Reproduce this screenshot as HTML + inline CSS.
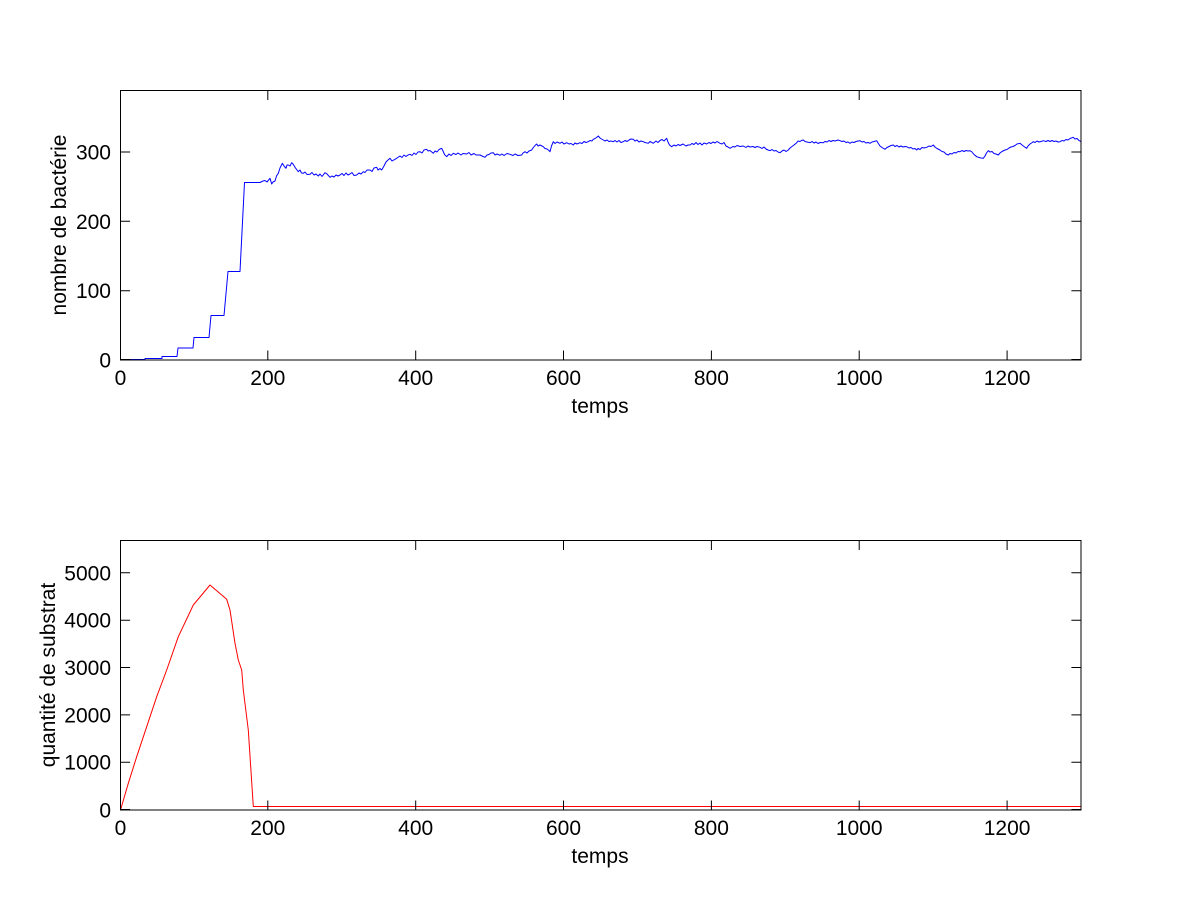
<!DOCTYPE html>
<html>
<head>
<meta charset="utf-8">
<style>
html,body{margin:0;padding:0;background:#fff;}
svg{display:block;}
text{font-family:"Liberation Sans",Arial,sans-serif;font-size:21px;fill:#000;}
</style>
</head>
<body>
<svg width="1201" height="900" viewBox="0 0 1201 900" xmlns="http://www.w3.org/2000/svg">
<rect x="0" y="0" width="1201" height="900" fill="#fff"/>

<!-- ============ TOP AXES ============ -->
<g>
<!-- data -->
<polyline fill="none" stroke="#0000ff" stroke-width="1" stroke-linejoin="round" points="
120.5,359.5 145,359.5 145,358.5 162,358.5 162,356.5 177,356.5 178,348 193,348 194,337.5 209,337.5 211,315.5 224,315.5 228,271.5 240,271.5 244.5,182.5 260,182.5
263,181 265,180.5 267,182 270,178.3 271.7,184 273,182 275,181 276.5,176 278.3,173.3 280,168 282.3,163.3 284,166 286,168.3 287,165 288.3,165 290,166 291.7,162.7 293,164 295,167.3 297,170 298.3,171.7 300,170 301.5,173 303.3,173.3 305,172 307,174.5 310,174.3 312,172.5 314,175 316,174 318.3,176 320,174 322,176.5 325,172.7 327,174 330,177.3 332,176 334,177 336,175 338,176 340,175 342,173.5 344,175.5 346,173 348,175 350,174 352,172.5 354,175.5 356.7,175 359,173 361,174 363.3,171.7 365,172.5 367,170 370,170 372,171.5 374,168 376.7,167.3 378,170 380,168.5 381.7,170 384,166 386,162 388,160 390,158.3 392,161 395,159.3 397,158 400,156 402,157.5 404,155 406,156.5 408,155 410,154.3 412,155.5 414,153 416,154.5 418,152 420,151.7 422,153 424,150 426.7,149.3 428,151 430,150.5 433.3,153.3 435,151 437,152 439,149.5 441.7,148.3 443,151 444.5,154.5 446.7,156.7 449,154 451,155.5 453.3,153.3 456,154.5 458,153 461,155 463,153.5 466.7,154 469,152.5 471,155 474,153.5 476,155 480,155 482,156 485,157.3 487,155 489,154.5 491,153 493.3,152.7 495,155 497,154 500,155.3 502,154 504,155.5 507,153.5 510,154.3 513,155.5 515,154 518,155.5 521.7,155 523,153 525,151.7 527,153 529,151 531.7,150 533,148 535,145.5 536.7,144 538,146 540,145 543.3,146.7 545,148.5 547,149 549,150.5 550,151.7 551.5,146 553.3,141.7 555,143.5 557,142 560,143.3 562,142 564,144 566.7,142.7 569,144 571,143.5 573.3,145 575,143 577,144 580,142.7 582,143.5 584,141.5 586,142.5 588.3,141.7 590,140.5 592,141 593.3,139.3 595,138.5 596.5,137.5 598.3,136 600,138 601.5,139 603.3,140 605,141 607,140 609,141.5 611,141 613.3,141.7 615,140.5 617,142 619,140.5 621,142.5 623.3,141.7 625,140.5 627,141.5 629,140 631,139 633.3,139.3 635,141 637,140 639,142 641,141 643.3,141.7 645,142.5 648.3,143.3 650,141.5 653.3,143.3 656,141 658,142.5 660,140.5 662,139.5 664,141 666.7,138.3 668,142 669.5,145 671.7,146.7 674,145 676,146 678,144.5 680,145.5 683,144 686,146 688,145 690,145 692,143.5 694,144.5 696,142.5 698,144.5 700,143 702,145 704,143 706.7,144 709,142.5 711,143.5 713,142 715,143 717,141.5 720,143.3 722,144 724,142.5 726,146 728,147 730,148.3 733,146.5 735,147 737,145.5 740,146.5 743.3,146 746,147.5 748,146 750,147 753,146.5 755,147.5 757,146.5 760,147.3 762,148.5 764,147 766,149 768,150 770,150.7 772,149.5 774,151 776,150.5 778,152 780,152.7 782,151 784,150 786,151.5 788.3,150 790,148 792,146.5 794,145 796.7,142.7 798,141 800,141.5 801.5,140.5 803.3,140 805,141.5 807,142 810,142.7 812,141.5 814,143 816,142 818,143.5 820,142.5 823.3,142.7 825,141.5 827,142 829,140.5 831,141.5 833,140.5 835,141 838,140 840,140.7 842,141.5 844,141 846,142.5 848,142 850,143.3 852,142 854,142.5 856,141.5 858,141 860,140.7 862,142 864,141.5 866,143 868,142.5 870,143.3 872,142 874,141.5 876.7,140.7 878,143 880,146 882,147.5 885,149.3 887,147.5 889,146.5 891,145.5 893.3,145 895,146.5 897,145.5 899,147 901,146 903,147 905,146.5 906.7,146.7 909,148 911,147.5 913,149 915,148.5 916.7,150 918,148.5 920,149.5 922,147.5 924,148 926.7,147.3 929,146 931,146.5 933.3,145 935,147 937,148.5 940,150 942,151.5 944,152 946,154 948.3,155 950,153.5 952,154 954,152.5 956,153 958,151.5 960,151.7 962,150.5 964,151.5 966,150.5 968,151 970,150.7 972,152 974,154.5 976.7,156.7 979,157.5 981,158 983.3,158.3 985,156 986.5,153 988.3,150.7 990,152 992,151.5 994,153.5 996,154 998.3,155 1000,153 1002,151.5 1005,150 1007,149.5 1009,148 1011,147 1013,146.5 1015,145.5 1017,144 1020,143.3 1022,145 1024,146.5 1026.7,148.3 1028,146 1030,144 1031.5,143 1033.3,141.7 1035,142.5 1037,141 1039,142 1041,141.5 1043.3,140.7 1046,141.5 1048,140.5 1050,141.5 1052,140.5 1054,141.5 1056,141 1058,142 1060,141.7 1062,140.5 1064,141 1066,139.5 1068,140 1070,138.5 1073.3,137.3 1075,139 1077,138.5 1079,140.5 1081,141.7"/>
<!-- box -->
<rect x="120.5" y="90.5" width="960.5" height="269.5" fill="none" stroke="#000" stroke-width="1"/>
<!-- ticks -->
<g stroke="#000" stroke-width="1">
<path d="M120.5,360 v-9.5 M120.5,90.5 v9.5
M267.8,360 v-9.5 M267.8,90.5 v9.5
M415.7,360 v-9.5 M415.7,90.5 v9.5
M563.5,360 v-9.5 M563.5,90.5 v9.5
M711.4,360 v-9.5 M711.4,90.5 v9.5
M859.2,360 v-9.5 M859.2,90.5 v9.5
M1007.1,360 v-9.5 M1007.1,90.5 v9.5
M120.5,359.5 h9.6 M1081,359.5 h-9.6
M120.5,290.7 h9.6 M1081,290.7 h-9.6
M120.5,221.3 h9.6 M1081,221.3 h-9.6
M120.5,152 h9.6 M1081,152 h-9.6"/>
</g>
<!-- x tick labels -->
<g text-anchor="middle">
<text x="120.5" y="385">0</text>
<text x="267.8" y="385">200</text>
<text x="415.7" y="385">400</text>
<text x="563.5" y="385">600</text>
<text x="711.4" y="385">800</text>
<text x="859.2" y="385">1000</text>
<text x="1007.1" y="385">1200</text>
</g>
<!-- y tick labels -->
<g text-anchor="end">
<text x="111" y="367.5">0</text>
<text x="111" y="298.2">100</text>
<text x="111" y="228.8">200</text>
<text x="111" y="159.5">300</text>
</g>
<text x="600" y="413" text-anchor="middle">temps</text>
<text transform="translate(66,225) rotate(-90)" text-anchor="middle">nombre de bactérie</text>
</g>

<!-- ============ BOTTOM AXES ============ -->
<g>
<polyline fill="none" stroke="#ff0000" stroke-width="1" stroke-linejoin="round" points="
120.5,810 128.3,783.3 136.7,756.7 146.7,726.7 156.7,696.7 166.7,670 178.3,636.7 193.3,605 210,585 226.7,599.3 230,610 235,643.3 238.3,660 241.7,670 243.3,690 248.3,730 253.3,806.5 1081,806.5"/>
<rect x="120.5" y="540.5" width="960.5" height="269.5" fill="none" stroke="#000" stroke-width="1"/>
<g stroke="#000" stroke-width="1">
<path d="M120.5,810 v-9.5 M120.5,540.5 v9.5
M267.8,810 v-9.5 M267.8,540.5 v9.5
M415.7,810 v-9.5 M415.7,540.5 v9.5
M563.5,810 v-9.5 M563.5,540.5 v9.5
M711.4,810 v-9.5 M711.4,540.5 v9.5
M859.2,810 v-9.5 M859.2,540.5 v9.5
M1007.1,810 v-9.5 M1007.1,540.5 v9.5
M120.5,809.5 h9.6 M1081,809.5 h-9.6
M120.5,762.2 h9.6 M1081,762.2 h-9.6
M120.5,714.9 h9.6 M1081,714.9 h-9.6
M120.5,667.5 h9.6 M1081,667.5 h-9.6
M120.5,620.2 h9.6 M1081,620.2 h-9.6
M120.5,572.8 h9.6 M1081,572.8 h-9.6"/>
</g>
<g text-anchor="middle">
<text x="120.5" y="835">0</text>
<text x="267.8" y="835">200</text>
<text x="415.7" y="835">400</text>
<text x="563.5" y="835">600</text>
<text x="711.4" y="835">800</text>
<text x="859.2" y="835">1000</text>
<text x="1007.1" y="835">1200</text>
</g>
<g text-anchor="end">
<text x="111" y="817.5">0</text>
<text x="111" y="769.7">1000</text>
<text x="111" y="722.4">2000</text>
<text x="111" y="675">3000</text>
<text x="111" y="627.7">4000</text>
<text x="111" y="580.3">5000</text>
</g>
<text x="600" y="863" text-anchor="middle">temps</text>
<text transform="translate(55,675) rotate(-90)" text-anchor="middle">quantité de substrat</text>
</g>
</svg>
</body>
</html>
